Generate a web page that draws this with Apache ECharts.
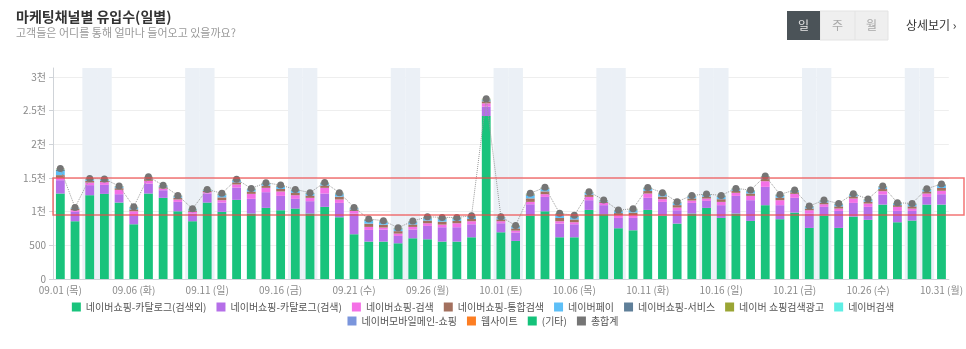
<!DOCTYPE html>
<html>
<head>
<meta charset="utf-8">
<script src="https://cdn.jsdelivr.net/npm/echarts@6/dist/echarts.min.js"></script>
<style>
  html, body { margin: 0; padding: 0; background: #fff; }
  #chart { width: 966px; height: 349px; }
</style>
</head>
<body>
<div id="chart"></div>
<script>
// ---- data ----
const categories = [
  '09.01 (목)','09.02 (금)','09.03 (토)','09.04 (일)','09.05 (월)','09.06 (화)','09.07 (수)','09.08 (목)','09.09 (금)','09.10 (토)',
  '09.11 (일)','09.12 (월)','09.13 (화)','09.14 (수)','09.15 (목)','09.16 (금)','09.17 (토)','09.18 (일)','09.19 (월)','09.20 (화)',
  '09.21 (수)','09.22 (목)','09.23 (금)','09.24 (토)','09.25 (일)','09.26 (월)','09.27 (화)','09.28 (수)','09.29 (목)','09.30 (금)',
  '10.01 (토)','10.02 (일)','10.03 (월)','10.04 (화)','10.05 (수)','10.06 (목)','10.07 (금)','10.08 (토)','10.09 (일)','10.10 (월)',
  '10.11 (화)','10.12 (수)','10.13 (목)','10.14 (금)','10.15 (토)','10.16 (일)','10.17 (월)','10.18 (화)','10.19 (수)','10.20 (목)',
  '10.21 (금)','10.22 (토)','10.23 (일)','10.24 (월)','10.25 (화)','10.26 (수)','10.27 (목)','10.28 (금)','10.29 (토)','10.30 (일)',
  '10.31 (월)'
];
const catalogNonSearch = [1268,857,1243,1263,1134,812,1268,1204,1005,857, 1134,996,1174,971,1055,1020,1045,971,1070,916, 664,555,555,530,604,589,555,555,619,2418, 693,565,941,1005,619,619,1025,961,753,723, 1025,941,822,971,1055,906,971,862,1095,887, 986,758,941,758,926,877,1104,842,867,1104,1104];
const catalogSearch = [198,139,149,134,124,134,148,113,139,114, 134,138,183,218,233,213,144,183,198,213, 307,173,178,109,129,199,213,213,193,138, 134,123,168,213,203,193,144,134,153,183, 179,203,198,158,104,189,262,307,272,208, 218,213,129,252,203,193,149,168,143,114,154];
const shopSearch = [35,24,39,39,64,59,40,25,35,25, 20,35,45,74,64,65,54,50,84,50, 39,45,30,35,40,39,39,59,45,50, 30,30,35,40,35,30,49,34,40,40, 64,40,40,35,35,49,45,64,84,74, 59,49,39,35,65,49,50,60,35,50,50];
const shopIntegrated = [40,18,25,20,25,28,26,20,26,20, 17,42,32,34,32,38,36,32,34,42, 22,48,42,36,36,40,44,36,34,30, 28,32,52,42,48,42,32,18,32,40, 38,40,36,32,28,40,28,36,32,36, 24,26,26,32,30,28,32,26,32,30,42];
const naverPay = [60,10,18,14,16,20,18,14,18,13, 12,32,24,26,24,30,28,24,26,33, 16,38,33,28,28,31,35,28,26,12, 20,24,40,33,38,33,25,12,24,31, 30,31,28,24,20,31,20,28,25,28, 17,19,19,24,22,21,24,18,24,22,33];
const shopService = [15,5,7,5,6,8,7,5,7,5, 5,12,9,10,9,11,10,9,10,12, 6,14,12,10,10,12,13,10,10,8, 8,9,16,12,14,12,9,5,9,12, 11,12,10,9,8,12,8,10,9,10, 7,8,8,9,9,8,9,8,9,9,12];
const shopAds = [8,3,4,3,4,4,4,3,4,3, 3,6,5,5,5,5,5,5,5,6, 3,7,6,5,5,6,6,5,5,8, 4,5,8,6,7,6,5,3,5,6, 5,6,5,5,4,6,4,5,5,5, 3,4,4,5,4,4,5,4,5,4,6];
const naverSearch = [5,2,3,2,2,3,3,2,2,2, 1,4,2,2,2,3,3,2,2,3, 2,4,3,3,3,3,3,3,2,3, 2,2,4,3,4,3,2,1,2,3, 3,3,3,2,2,3,2,3,2,3, 2,2,2,2,2,2,2,2,2,2,3];
const mobileMain = [5,1,2,1,2,2,2,1,2,1, 1,3,2,2,2,2,2,2,2,3, 1,3,3,2,2,2,3,2,2,3, 2,2,4,3,3,3,2,1,2,2, 2,2,2,2,2,2,2,2,2,2, 1,1,1,2,2,2,2,1,2,2,3];
const website = [4,1,1,1,1,1,1,1,1,1, 1,2,1,1,1,5,1,1,1,2, 1,2,2,1,1,2,2,1,1,3, 1,1,2,2,2,2,1,1,1,2, 1,2,1,1,1,1,1,1,1,1, 1,1,1,1,1,1,1,1,1,1,2];
const others = [2,1,1,1,1,1,1,1,1,1, 1,1,1,1,1,1,1,1,1,1, 1,1,1,1,1,1,1,1,1,2, 1,1,1,1,1,1,1,1,1,1, 1,1,1,1,1,1,1,1,1,1, 1,1,1,1,1,1,1,1,1,1,1];
const yTickLabels = { 0: '0', 500: '500', 1000: '1천', 1500: '1.5천', 2000: '2천', 2500: '2.5천', 3000: '3천' };
const highlightRange = [950, 1500];

const seriesDefs = [
  { name: '네이버쇼핑-카탈로그(검색외)', data: catalogNonSearch, color: '#19c37c' },
  { name: '네이버쇼핑-카탈로그(검색)', data: catalogSearch, color: '#b56fe8' },
  { name: '네이버쇼핑-검색', data: shopSearch, color: '#f470e6' },
  { name: '네이버쇼핑-통합검색', data: shopIntegrated, color: '#a3705e' },
  { name: '네이버페이', data: naverPay, color: '#5dbff7' },
  { name: '네이버쇼핑-서비스', data: shopService, color: '#5f7f99' },
  { name: '네이버 쇼핑검색광고', data: shopAds, color: '#9aa534' },
  { name: '네이버검색', data: naverSearch, color: '#5eeee4' },
  { name: '네이버모바일메인-쇼핑', data: mobileMain, color: '#7a95dc' },
  { name: '웹사이트', data: website, color: '#fd7e23' },
  { name: '(기타)', data: others, color: '#14c27a' }
];
const totalName = '총합계';
const totals = categories.map((_, i) => seriesDefs.reduce((s, d) => s + d.data[i], 0));

const Y_MAX = 3130;
const FONT = "'Noto Sans CJK KR', 'Noto Sans', sans-serif";

const chart = echarts.init(document.getElementById('chart'), null, { renderer: 'canvas' });

const series = seriesDefs.map(d => ({
  name: d.name,
  type: 'bar',
  stack: 'total',
  barWidth: '60%',
  data: d.data,
  itemStyle: { color: d.color },
  emphasis: { disabled: true },
  z: 3
}));

// weekend shading (full-category-width bands)
series.unshift({
  name: 'weekend',
  type: 'bar',
  xAxisIndex: 1,
  barWidth: '100%',
  silent: true,
  z: 1,
  itemStyle: { color: '#ebf0f6' },
  data: categories.map(c => (c.indexOf('(토)') >= 0 || c.indexOf('(일)') >= 0) ? Y_MAX : '-')
});

series.push({
  name: totalName,
  type: 'line',
  data: totals,
  symbol: 'circle',
  symbolSize: 7,
  itemStyle: { color: '#757575' },
  lineStyle: { color: '#9a9a9a', width: 1, type: 'dotted' },
  z: 6
});

const legendRow1 = seriesDefs.slice(0, 8).map(d => d.name);
const legendRow2 = seriesDefs.slice(8).map(d => d.name).concat([totalName]);

const legendCommon = {
  left: 'center',
  itemWidth: 9,
  itemHeight: 9,
  itemGap: 10,
  icon: 'rect',
  textStyle: { fontSize: 10, color: '#555', fontFamily: FONT },
  selectedMode: false
};

chart.setOption({
  animation: false,
  textStyle: { fontFamily: FONT },
  grid: { left: 53, right: 9, top: 68, bottom: 70 },
  xAxis: [
    {
      type: 'category',
      data: categories,
      axisLine: { lineStyle: { color: '#cfd3d8' } },
      axisTick: { alignWithLabel: false, interval: 0, lineStyle: { color: '#cfd3d8' }, length: 4 },
      axisLabel: { interval: 4, fontSize: 10, color: '#8a8a8a', fontFamily: FONT, margin: 6 }
    },
    { type: 'category', data: categories, show: false }
  ],
  yAxis: {
    type: 'value',
    min: 0,
    max: Y_MAX,
    interval: 500,
    axisLine: { show: true, lineStyle: { color: '#cfd3d8' } },
    axisTick: { show: true, length: 4, lineStyle: { color: '#cfd3d8' } },
    axisLabel: {
      fontSize: 10, color: '#8a8a8a', fontFamily: FONT, margin: 7, showMaxLabel: false,
      formatter: v => (yTickLabels[v] !== undefined ? yTickLabels[v] : '')
    },
    splitLine: { show: true, showMaxLine: false, lineStyle: { color: '#eeeeee' } }
  },
  legend: [
    Object.assign({ top: 297, data: legendRow1 }, legendCommon),
    Object.assign({ top: 311, data: legendRow2 }, legendCommon)
  ],
  graphic: [
    { type: 'text', x: 16, y: 17, style: { text: '마케팅채널별 유입수(일별)', fill: '#333', font: "bold 14px 'Noto Sans CJK KR', sans-serif", textVerticalAlign: 'middle' } },
    { type: 'text', x: 16, y: 33, style: { text: '고객들은 어디를 통해 얼마나 들어오고 있을까요?', fill: '#9a9a9a', font: "11px 'Noto Sans CJK KR', sans-serif", textVerticalAlign: 'middle' } },
    { type: 'rect', x: 820, y: 11, shape: { width: 68, height: 29 }, style: { fill: '#efefef', stroke: '#e3e3e3', lineWidth: 1 } },
    { type: 'line', shape: { x1: 855, y1: 11, x2: 855, y2: 40 }, style: { stroke: '#e3e3e3', lineWidth: 1 } },
    { type: 'rect', x: 787, y: 11, shape: { width: 33, height: 29 }, style: { fill: '#4b5358' } },
    { type: 'text', x: 803.5, y: 25.5, style: { text: '일', fill: '#e6e6e6', font: "12px 'Noto Sans CJK KR', sans-serif", textAlign: 'center', textVerticalAlign: 'middle' } },
    { type: 'text', x: 837.5, y: 25.5, style: { text: '주', fill: '#a8a8a8', font: "12px 'Noto Sans CJK KR', sans-serif", textAlign: 'center', textVerticalAlign: 'middle' } },
    { type: 'text', x: 871.5, y: 25.5, style: { text: '월', fill: '#a8a8a8', font: "12px 'Noto Sans CJK KR', sans-serif", textAlign: 'center', textVerticalAlign: 'middle' } },
    { type: 'text', x: 906, y: 25, style: { text: '상세보기 ›', fill: '#333', font: "12px 'Noto Sans CJK KR', sans-serif", textVerticalAlign: 'middle' } }
  ],
  series: series
});

// highlight band outline, positioned through the value axis
const yTop = chart.convertToPixel({ yAxisIndex: 0 }, highlightRange[1]);
const yBot = chart.convertToPixel({ yAxisIndex: 0 }, highlightRange[0]);
chart.setOption({
  graphic: [{
    id: 'highlightBand', type: 'rect', z: 50, silent: true,
    shape: { x: 53, y: yTop, width: chart.getWidth() - 2 - 53, height: yBot - yTop },
    style: { fill: 'none', stroke: 'rgba(238,70,70,0.75)', lineWidth: 1.5 }
  }]
});
</script>
</body>
</html>
